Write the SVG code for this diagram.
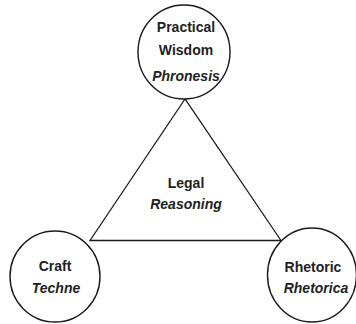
<svg xmlns="http://www.w3.org/2000/svg" width="356" height="324" viewBox="0 0 356 324">
<style>
.n{fill:#fff;stroke:#1a1a1a;stroke-width:1.4}
.e{fill:none;stroke:#1a1a1a;stroke-width:1.3}
text{font-family:"Liberation Sans",Arial,sans-serif;font-size:14px;font-weight:bold;fill:#222;text-anchor:middle}
.i{font-style:italic}
</style>
<rect width="356" height="324" fill="#fff"/>
<g id="connectors">
<polygon class="e" points="185,99 90,240.5 281,240.5"/>
</g>
<g id="center">
<text x="186" y="188">Legal</text>
<text class="i" x="186" y="209">Reasoning</text>
</g>
<g id="phronesis">
<ellipse class="n" cx="184" cy="52" rx="46" ry="47"/>
<text x="186" y="32">Practical</text>
<text x="186" y="55">Wisdom</text>
<text class="i" x="186" y="81">Phronesis</text>
</g>
<g id="techne">
<ellipse class="n" cx="55" cy="276.5" rx="45" ry="45.5"/>
<text x="55" y="271">Craft</text>
<text class="i" x="56" y="293">Techne</text>
</g>
<g id="rhetorica">
<ellipse class="n" cx="312" cy="275" rx="44.5" ry="47"/>
<text x="313" y="272">Rhetoric</text>
<text class="i" x="316" y="293">Rhetorica</text>
</g>
</svg>
